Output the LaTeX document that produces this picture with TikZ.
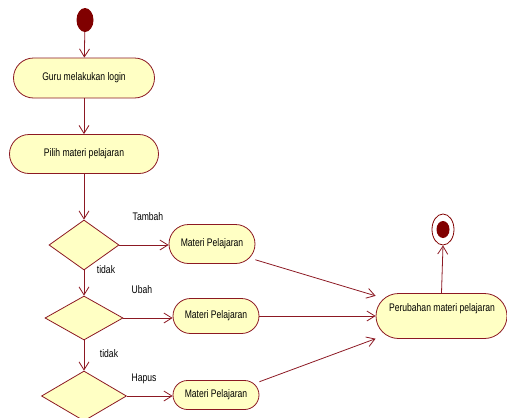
\documentclass[tikz,border=0pt]{standalone}
\usepackage{fontspec}
\setmainfont{Liberation Sans}[FakeStretch=0.78]
\usetikzlibrary{shapes.geometric,arrows.meta}
\definecolor{umlline}{RGB}{140,25,35}
\definecolor{umlfill}{RGB}{255,255,196}
\definecolor{umldot}{RGB}{128,0,0}
\tikzset{
  act/.style={draw=umlline, fill=umlfill, line width=0.8pt, inner sep=0pt, font=\fontsize{11}{13}\selectfont},
  dec/.style={draw=umlline, fill=umlfill, line width=0.8pt, diamond, inner sep=0pt},
  flow/.style={draw=umlline, line width=0.8pt, -{Straight Barb[length=8pt,width=10pt]}},
  lbl/.style={font=\fontsize{11}{13}\selectfont, inner sep=0pt}
}
\begin{document}
\begin{tikzpicture}[x=1pt,y=-1pt]
\useasboundingbox (0,0) rectangle (507,418);
\clip (0,0) rectangle (507,418);
% start
\node (start) [ellipse, fill=umldot, minimum width=17pt, minimum height=24pt, inner sep=0pt] at (85,20) {};
% activities
\node (login) [act, rounded corners=20pt, minimum width=141pt, minimum height=40pt] at (84,78) {Guru melakukan login};
\node (pilih) [act, rounded corners=19.5pt, minimum width=149pt, minimum height=39pt] at (84,154) {Pilih materi pelajaran};
% decisions
\node (d1) [dec, minimum width=70pt, minimum height=50pt] at (84,245) {};
\node (d2) [dec, minimum width=78pt, minimum height=44pt] at (84,318) {};
\node (d3) [dec, minimum width=85pt, minimum height=50pt] at (84,396) {};
% materi boxes
\node (m1) [act, rounded corners=19.5pt, minimum width=86pt, minimum height=39pt] at (212,244) {Materi Pelajaran};
\node (m2) [act, rounded corners=17.5pt, minimum width=86pt, minimum height=35pt] at (216,316) {Materi Pelajaran};
\node (m3) [act, rounded corners=14.5pt, minimum width=86pt, minimum height=29pt] at (216,395) {Materi Pelajaran};
% result
\node (p) [act, rounded corners=22.5pt, minimum width=131pt, minimum height=45pt] at (441.5,316) {};
\node (ptxt) [lbl] at (442,309) {Perubahan materi pelajaran};
% end
\node (endo) [ellipse, draw=umldot, fill=white, line width=0.8pt, minimum width=22pt, minimum height=31pt, inner sep=0pt] at (443,229.5) {};
\node (endi) [ellipse, fill=umldot, minimum width=13pt, minimum height=17pt, inner sep=0pt] at (443,229.5) {};
% labels
\node (lt) [lbl] at (148,217) {Tambah};
\node (ln1) [lbl] at (106,270) {tidak};
\node (lu) [lbl] at (142,290) {Ubah};
\node (ln2) [lbl] at (109,354) {tidak};
\node (lh) [lbl] at (144,379) {Hapus};
% flows
\draw[flow] (start) -- (login);
\draw[flow] (login) -- (pilih);
\draw[flow] (pilih) -- (d1.north);
\draw[flow] (d1.east) -- (m1.west |- d1.east);
\draw[flow] (d1.south) -- (d2.north);
\draw[flow] (d2.east) -- (m2.west |- d2.east);
\draw[flow] (d2.south) -- (d3.north);
\draw[flow] (d3.east) -- (m3.west |- d3.east);
\draw[flow] (m1.-20) -- (p.163.7);
\draw[flow] (m2.east) -- (p.west |- m2.east);
\draw[flow] (m3.17.6) -- (p.199.5);
\draw[flow] (p.north) -- (endo.south);
\end{tikzpicture}
\end{document}
